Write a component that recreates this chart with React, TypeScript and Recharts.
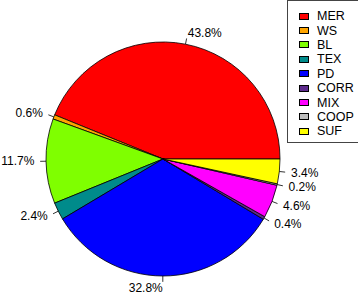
import { PieChart, Pie, Cell } from 'recharts';

const categories = ['MER', 'WS', 'BL', 'TEX', 'PD', 'CORR', 'MIX', 'COOP', 'SUF'];
const shares = [43.8, 0.6, 11.7, 2.4, 32.8, 0.4, 4.6, 0.2, 3.4];
const colors = ['#FF0000', '#FFA500', '#7FFF00', '#008B8B', '#0000FF', '#5D2A8C', '#FF00FF', '#BEBEBE', '#FFFF00'];

const data = categories.map((name, i) => ({ name, value: shares[i] }));

const RAD = Math.PI / 180;

// R-style label: short tick from the rim, then text at 1.1 * radius
function renderLabel(props: any) {
  const { cx, cy, midAngle, outerRadius, value } = props;
  const cos = Math.cos(-midAngle * RAD);
  const sin = Math.sin(-midAngle * RAD);
  const x1 = cx + outerRadius * cos;
  const y1 = cy + outerRadius * sin;
  const x2 = cx + outerRadius * 1.05 * cos;
  const y2 = cy + outerRadius * 1.05 * sin;
  const tx = cx + outerRadius * 1.1 * cos;
  const ty = cy + outerRadius * 1.1 * sin;
  return (
    <g>
      <line x1={x1} y1={y1} x2={x2} y2={y2} stroke="#000" strokeWidth={0.8} />
      <text
        x={tx}
        y={ty}
        textAnchor={cos < 0 ? 'end' : 'start'}
        dominantBaseline="central"
        fill="#000"
        fontSize={12}
        fontFamily="'Liberation Sans', Arial, sans-serif"
      >
        {`${value.toFixed(1)}%`}
      </text>
    </g>
  );
}

export default function App() {
  return (
    <div style={{ position: 'absolute', left: 0, top: 0, width: 358, height: 294, background: '#fff' }}>
      <PieChart width={358} height={294} margin={{ top: 0, right: 0, bottom: 0, left: 0 }}>
        <Pie
          data={data}
          dataKey="value"
          nameKey="name"
          cx={163}
          cy={159}
          outerRadius={117}
          startAngle={0}
          endAngle={360}
          stroke="#000"
          strokeWidth={0.8}
          label={renderLabel}
          labelLine={false}
          isAnimationActive={false}
        >
          {data.map((d, i) => (
            <Cell key={d.name} fill={colors[i]} />
          ))}
        </Pie>
      </PieChart>

      {/* legend box, top right */}
      <div
        style={{
          position: 'absolute',
          left: 287,
          top: 0,
          width: 80,
          height: 143,
          border: '1px solid #444',
          boxSizing: 'border-box',
          fontFamily: "'Liberation Sans', Arial, sans-serif",
          fontSize: 12.5,
          color: '#000',
          paddingTop: 8,
        }}
      >
        {categories.map((name, i) => (
          <div key={name} style={{ display: 'flex', alignItems: 'center', height: 14.4 }}>
            <div
              style={{
                width: 10,
                height: 7,
                marginLeft: 11,
                marginRight: 8,
                background: colors[i],
                border: '1px solid #000',
                boxSizing: 'border-box',
              }}
            />
            <span>{name}</span>
          </div>
        ))}
      </div>
    </div>
  );
}
